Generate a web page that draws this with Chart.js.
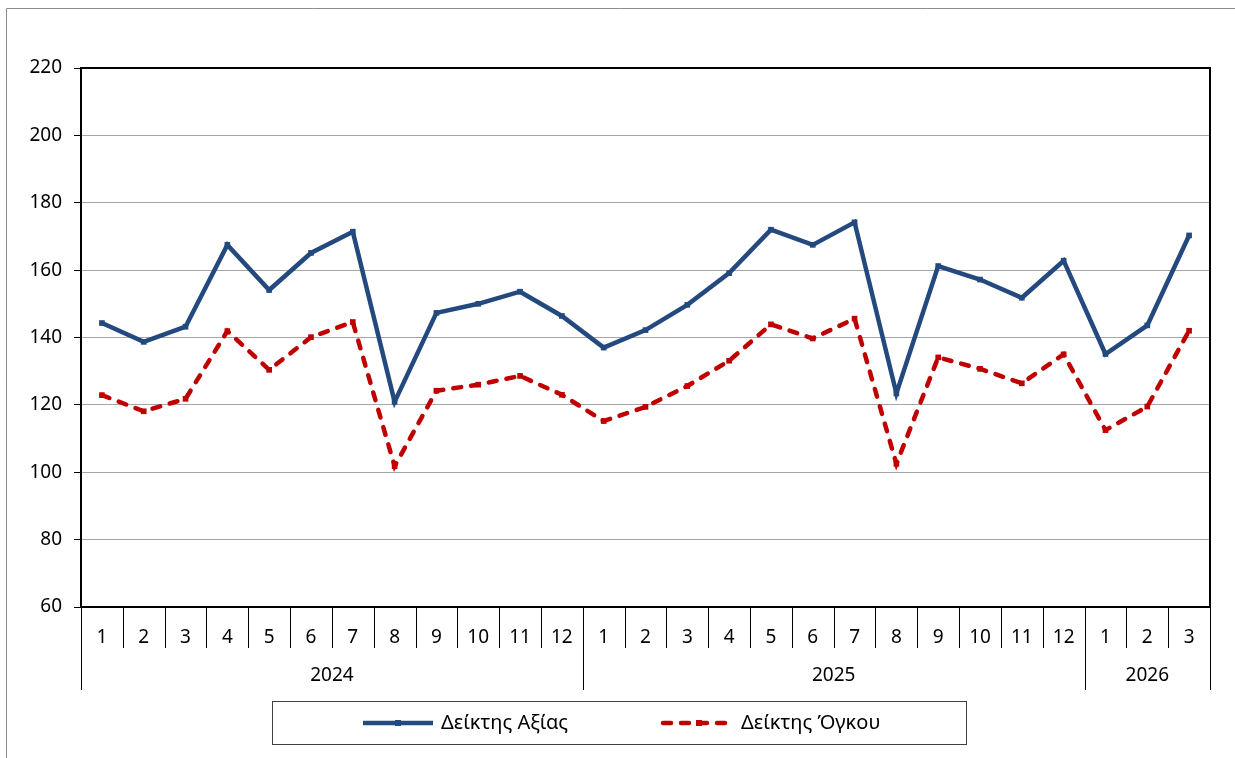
<!DOCTYPE html>
<html>
<head>
<meta charset="utf-8">
<script src="https://cdn.jsdelivr.net/npm/chart.js@4.4.1/dist/chart.umd.min.js"></script>
<style>
  html, body { margin: 0; padding: 0; background: #fff; }
  #wrap { width: 1235px; height: 758px; }
</style>
</head>
<body>
<div id="wrap"><canvas id="chart"></canvas></div>
<script>
const MONTHS = ['1','2','3','4','5','6','7','8','9','10','11','12',
                '1','2','3','4','5','6','7','8','9','10','11','12',
                '1','2','3'];
const YEARS = ['2024', '2025', '2026'];
const YEAR_SPANS = [12, 12, 3];

const VALUE_INDEX = [144.3, 138.7, 143.2, 167.5, 154.1, 165.1, 171.4, 120.9, 147.3, 150.0, 153.6, 146.4,
                     137.0, 142.2, 149.7, 159.1, 172.0, 167.5, 174.2, 123.4, 161.2, 157.2, 151.8, 162.8,
                     135.1, 143.6, 170.3];
const VOLUME_INDEX = [122.9, 118.1, 121.8, 141.9, 130.4, 140.1, 144.6, 101.8, 124.2, 126.0, 128.6, 123.0,
                      115.2, 119.4, 125.6, 133.1, 143.9, 139.7, 145.6, 102.5, 134.1, 130.7, 126.4, 135.0,
                      112.5, 119.5, 142.0];

const Y_MIN = 60, Y_MAX = 220, Y_STEP = 20;

const FONT = '"Noto Sans", "DejaVu Sans", sans-serif';
const BLUE = '#23497e';
const RED = '#c00000';

const decorPlugin = {
    id: 'decor',
    beforeDraw(chart) {
        const ctx = chart.ctx;
        ctx.save();
        ctx.strokeStyle = '#8c8c8c';
        ctx.lineWidth = 1;
        ctx.beginPath();
        ctx.moveTo(6.5, 758);
        ctx.lineTo(6.5, 8.5);
        ctx.lineTo(1235, 8.5);
        ctx.stroke();
        ctx.restore();
    },
    beforeDatasetsDraw(chart) {
        const { ctx, chartArea: a } = chart;
        ctx.save();
        ctx.strokeStyle = '#000';
        ctx.lineWidth = 2;
        ctx.strokeRect(a.left, a.top, a.right - a.left, a.bottom - a.top);
        ctx.restore();
    },
    afterDraw(chart) {
        const { ctx, chartArea: a } = chart;
        const xs = chart.scales.x;
        const w = xs.getPixelForValue(1) - xs.getPixelForValue(0);
        const left = xs.getPixelForValue(0) - w / 2;

        // cell and year separators
        const groupEdges = [0];
        YEAR_SPANS.forEach(s => groupEdges.push(groupEdges[groupEdges.length - 1] + s));
        ctx.save();
        ctx.strokeStyle = '#000';
        ctx.lineWidth = 1;
        for (let k = 0; k <= MONTHS.length; k++) {
            const x = Math.round(left + k * w) + 0.5;
            const bottom = groupEdges.includes(k) ? a.bottom + 83 : a.bottom + 41;
            ctx.beginPath();
            ctx.moveTo(x, a.bottom);
            ctx.lineTo(x, bottom);
            ctx.stroke();
        }

        // year labels
        ctx.fillStyle = '#000';
        ctx.font = '19px ' + FONT;
        ctx.textAlign = 'center';
        ctx.textBaseline = 'middle';
        YEARS.forEach((y, i) => {
            const cx = left + (groupEdges[i] + groupEdges[i + 1]) / 2 * w;
            ctx.fillText(y, cx, a.bottom + 69);
        });

        // legend box
        ctx.strokeStyle = '#404040';
        ctx.strokeRect(272.5, 701.5, 694, 43);
        const entries = [
            { ds: chart.data.datasets[0], x1: 363, x2: 433, tx: 441 },
            { ds: chart.data.datasets[1], x1: 663, x2: 735, tx: 741 }
        ];
        const ly = 723;
        entries.forEach(e => {
            ctx.save();
            ctx.strokeStyle = e.ds.borderColor;
            ctx.lineWidth = e.ds.borderWidth;
            ctx.lineCap = e.ds.borderCapStyle || 'butt';
            ctx.setLineDash(e.ds.borderDash || []);
            ctx.beginPath();
            ctx.moveTo(e.x1, ly);
            ctx.lineTo(e.x2, ly);
            ctx.stroke();
            ctx.setLineDash([]);
            ctx.fillStyle = e.ds.pointBackgroundColor;
            const mx = (e.x1 + e.x2) / 2;
            ctx.fillRect(mx - 3, ly - 3, 6, 6);
            ctx.restore();
            ctx.fillStyle = '#000';
            ctx.textAlign = 'left';
            ctx.textBaseline = 'middle';
            ctx.font = '20px ' + FONT;
            ctx.fillText(e.ds.label, e.tx, ly);
        });
        ctx.restore();
    }
};

new Chart(document.getElementById('chart'), {
    type: 'line',
    data: {
        labels: MONTHS,
        datasets: [
            {
                label: 'Δείκτης Αξίας',
                data: VALUE_INDEX,
                borderColor: BLUE,
                backgroundColor: BLUE,
                borderWidth: 4.5,
                pointStyle: 'rect',
                pointRadius: 4,
                pointBorderWidth: 0,
                pointBackgroundColor: BLUE,
                tension: 0
            },
            {
                label: 'Δείκτης Όγκου',
                data: VOLUME_INDEX,
                borderColor: RED,
                backgroundColor: RED,
                borderWidth: 4.5,
                borderDash: [8, 10],
                borderCapStyle: 'round',
                pointStyle: 'rect',
                pointRadius: 4,
                pointBorderWidth: 0,
                pointBackgroundColor: RED,
                tension: 0
            }
        ]
    },
    options: {
        responsive: true,
        maintainAspectRatio: false,
        animation: false,
        events: [],
        layout: { padding: { left: 0, top: 68, right: 25, bottom: 0 } },
        plugins: {
            legend: { display: false },
            tooltip: { enabled: false },
            title: { display: false }
        },
        scales: {
            x: {
                type: 'category',
                offset: true,
                grid: { display: false },
                border: { display: true, color: '#000', width: 2 },
                ticks: {
                    color: '#000',
                    font: { family: FONT, size: 19 },
                    padding: 11,
                    maxRotation: 0,
                    autoSkip: false
                },
                afterFit(scale) { scale.height = 151; }
            },
            y: {
                min: Y_MIN,
                max: Y_MAX,
                ticks: {
                    stepSize: Y_STEP,
                    color: '#000',
                    font: { family: FONT, size: 19 },
                    padding: 12
                },
                grid: {
                    color: '#a6a6a6',
                    lineWidth: 1,
                    tickLength: 7,
                    tickColor: '#000'
                },
                border: { display: true, color: '#000', width: 2 },
                afterFit(scale) { scale.width = 81; }
            }
        }
    },
    plugins: [decorPlugin]
});
</script>
</body>
</html>
